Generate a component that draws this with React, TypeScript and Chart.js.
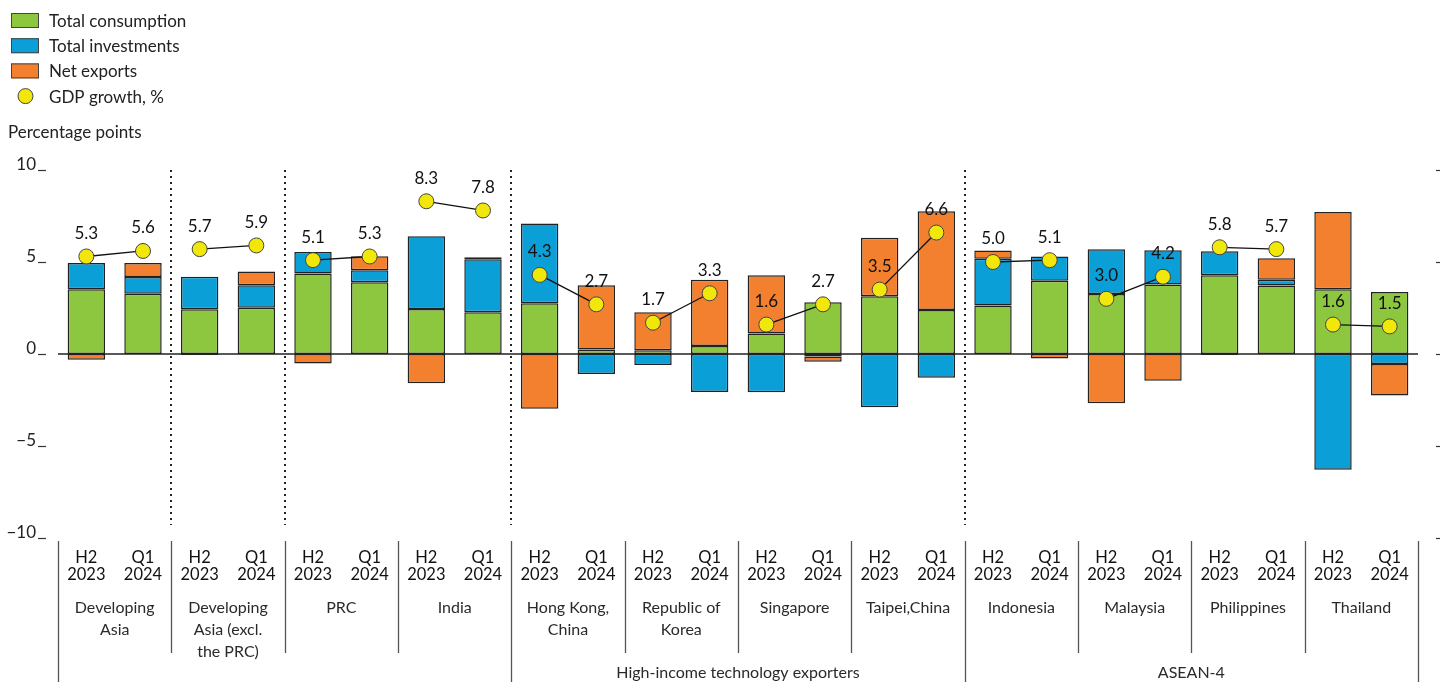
import React, { useEffect, useRef } from "react";
import Chart from "chart.js/auto";

const categories = [
  "H2 2023", "Q1 2024", "H2 2023", "Q1 2024", "H2 2023", "Q1 2024",
  "H2 2023", "Q1 2024", "H2 2023", "Q1 2024", "H2 2023", "Q1 2024",
  "H2 2023", "Q1 2024", "H2 2023", "Q1 2024", "H2 2023", "Q1 2024",
  "H2 2023", "Q1 2024", "H2 2023", "Q1 2024", "H2 2023", "Q1 2024",
];

const countries = [
  ["Developing", "Asia"],
  ["Developing", "Asia (excl.", "the PRC)"],
  ["PRC"],
  ["India"],
  ["Hong Kong,", "China"],
  ["Republic of", "Korea"],
  ["Singapore"],
  ["Taipei,China"],
  ["Indonesia"],
  ["Malaysia"],
  ["Philippines"],
  ["Thailand"],
];

const superGroups = [
  { label: "High-income technology exporters", from: 4, to: 7 },
  { label: "ASEAN-4", from: 8, to: 11 },
];

const dottedAfterCountry = [0, 1, 3, 7];
const longLineBoundaries = [0, 4, 8, 12];

const consumption = [3.52, 3.28, 2.43, 2.52, 4.38, 3.9, 2.45, 2.27, 2.76, 0.25, 0.2, 0.43, 1.12, 2.81, 3.14, 2.39, 2.64, 3.98, 3.26, 3.78, 4.28, 3.72, 3.52, 3.37];
const investments = [1.43, 0.9, 1.77, 1.21, 1.16, 0.65, 3.95, 2.88, 4.33, -1.09, -0.6, -2.07, -2.08, -0.14, -2.9, -1.29, 2.54, 1.32, 2.43, 1.86, 1.3, 0.31, -6.29, -0.54];
const netExports = [-0.31, 0.77, -0.05, 0.76, -0.51, 0.76, -1.59, 0.11, -2.97, 3.48, 2.07, 3.61, 3.16, -0.28, 3.18, 5.37, 0.45, -0.25, -2.68, -1.45, -0.05, 1.18, 4.2, -1.71];
const gdpGrowth = [5.3, 5.6, 5.7, 5.9, 5.1, 5.3, 8.3, 7.8, 4.3, 2.7, 1.7, 3.3, 1.6, 2.7, 3.5, 6.6, 5.0, 5.1, 3.0, 4.2, 5.8, 5.7, 1.6, 1.5];

const yTicks = [10, 5, 0, -5, -10];
const yTickLabels = ["10", "5", "0", "\u22125", "\u221210"];

const seriesNames = ["Total consumption", "Total investments", "Net exports", "GDP growth, %"];
const GREEN = "#8DC63F";
const BLUE = "#0A9FD6";
const ORANGE = "#F2802E";
const YELLOW = "#F2E70A";
const FONT = 'Lato, "Noto Sans", sans-serif';
const TEXT = "#222";

function boundaryX(chart: any, k: number) {
  const x = chart.scales.x;
  const n = categories.length;
  if (k <= 0) return chart.chartArea.left;
  if (k >= n) return chart.chartArea.right;
  return (x.getPixelForValue(k - 1) + x.getPixelForValue(k)) / 2;
}

const overlayPlugin = {
  id: "overlay",
  beforeDatasetsDraw(chart: any) {
    const { ctx } = chart;
    const y = chart.scales.y;
    ctx.save();
    ctx.strokeStyle = "#222";
    ctx.lineWidth = 2;
    ctx.setLineDash([2, 4]);
    dottedAfterCountry.forEach((g) => {
      const bx = Math.round(boundaryX(chart, (g + 1) * 2));
      ctx.beginPath();
      ctx.moveTo(bx, y.getPixelForValue(10));
      ctx.lineTo(bx, y.getPixelForValue(-9.3));
      ctx.stroke();
    });
    ctx.restore();
  },
  afterDatasetsDraw(chart: any) {
    const { ctx, chartArea } = chart;
    const y = chart.scales.y;
    ctx.save();
    ctx.strokeStyle = "#222";
    ctx.lineWidth = 1.5;
    const zy = y.getPixelForValue(0);
    ctx.beginPath();
    ctx.moveTo(chartArea.left, zy);
    ctx.lineTo(chartArea.right, zy);
    ctx.stroke();
    ctx.restore();

    const meta = chart.getDatasetMeta(3);
    ctx.save();
    ctx.font = `17px ${FONT}`;
    ctx.fillStyle = "#111";
    ctx.textAlign = "center";
    ctx.textBaseline = "middle";
    meta.data.forEach((pt: any, i: number) => {
      ctx.fillText(gdpGrowth[i].toFixed(1), pt.x, pt.y - 23);
    });
    ctx.restore();
  },
  afterDraw(chart: any) {
    const { ctx, chartArea, height } = chart;
    const x = chart.scales.x;
    const y = chart.scales.y;
    ctx.save();

    const colors = [GREEN, BLUE, ORANGE];
    ctx.font = `17px ${FONT}`;
    ctx.textBaseline = "alphabetic";
    ctx.textAlign = "left";
    for (let i = 0; i < 4; i++) {
      const cy = 20.5 + i * 25.2;
      if (i < 3) {
        ctx.fillStyle = colors[i];
        ctx.fillRect(11, cy - 7.5, 28, 15);
        ctx.strokeStyle = "#444";
        ctx.lineWidth = 1;
        ctx.strokeRect(11.5, cy - 7, 27, 14);
      } else {
        ctx.beginPath();
        ctx.arc(25.5, cy, 7.5, 0, Math.PI * 2);
        ctx.fillStyle = YELLOW;
        ctx.fill();
        ctx.strokeStyle = "#444";
        ctx.lineWidth = 1;
        ctx.stroke();
      }
      ctx.fillStyle = TEXT;
      ctx.fillText(seriesNames[i], 49, cy + 6.5);
    }

    ctx.fillText("Percentage points", 8, 138);

    ctx.textAlign = "right";
    yTicks.forEach((v, i) => {
      const py = y.getPixelForValue(v);
      ctx.fillStyle = TEXT;
      ctx.fillText(yTickLabels[i], 36, py);
      ctx.strokeStyle = "#333";
      ctx.lineWidth = 1.2;
      ctx.beginPath();
      ctx.moveTo(38, py + 0.5);
      ctx.lineTo(46, py + 0.5);
      ctx.stroke();
      ctx.beginPath();
      ctx.moveTo(1436, py + 0.5);
      ctx.lineTo(1440, py + 0.5);
      ctx.stroke();
    });

    const bottom = chartArea.bottom;
    ctx.strokeStyle = "#555";
    ctx.lineWidth = 1.3;
    for (let g = 0; g <= countries.length; g++) {
      const bx = Math.round(boundaryX(chart, g * 2)) + 0.5;
      const long = longLineBoundaries.includes(g);
      ctx.beginPath();
      ctx.moveTo(bx, bottom + 3);
      ctx.lineTo(bx, long ? height : bottom + 115);
      ctx.stroke();
    }

    ctx.textAlign = "center";
    ctx.textBaseline = "middle";
    ctx.fillStyle = "#111";
    ctx.font = `16.5px ${FONT}`;
    categories.forEach((c, i) => {
      const px = x.getPixelForValue(i);
      const parts = c.split(" ");
      ctx.fillText(parts[0], px, bottom + 20);
      ctx.fillText(parts[1], px, bottom + 37);
    });

    ctx.font = `16px ${FONT}`;
    ctx.fillStyle = "#2a2a2a";
    countries.forEach((lines, g) => {
      const cx = (boundaryX(chart, g * 2) + boundaryX(chart, g * 2 + 2)) / 2;
      lines.forEach((t, j) => {
        ctx.fillText(t, cx, bottom + 70 + j * 22);
      });
    });

    superGroups.forEach((sg) => {
      const cx = (boundaryX(chart, sg.from * 2) + boundaryX(chart, sg.to * 2 + 2)) / 2;
      ctx.fillText(sg.label, cx, bottom + 135);
    });

    ctx.restore();
  },
};

export default function App() {
  const canvasRef = useRef<HTMLCanvasElement | null>(null);

  useEffect(() => {
    const canvas = canvasRef.current;
    if (!canvas) return;
    const barCommon = {
      type: "bar" as const,
      borderColor: "#222",
      borderWidth: 1.5,
      borderSkipped: false,
      barPercentage: 0.66,
      categoryPercentage: 1,
      stack: "contrib",
      order: 1,
    };
    const chart = new Chart(canvas, {
      data: {
        labels: categories,
        datasets: [
          { ...barCommon, label: seriesNames[0], data: consumption, backgroundColor: GREEN },
          { ...barCommon, label: seriesNames[1], data: investments, backgroundColor: BLUE },
          { ...barCommon, label: seriesNames[2], data: netExports, backgroundColor: ORANGE },
          {
            type: "line" as const,
            label: seriesNames[3],
            data: gdpGrowth,
            stack: "gdp",
            order: 0,
            borderColor: "#111",
            borderWidth: 1.3,
            pointRadius: 7.5,
            pointBackgroundColor: YELLOW,
            pointBorderColor: "#444",
            pointBorderWidth: 1,
            fill: false,
            tension: 0,
            segment: {
              borderColor: (c: any) => (c.p0DataIndex % 2 === 1 ? "rgba(0,0,0,0)" : "#111"),
            },
          } as any,
        ],
      },
      options: {
        animation: false,
        responsive: true,
        maintainAspectRatio: false,
        events: [],
        layout: { padding: { left: 58, right: 22, top: 170, bottom: 144 } },
        plugins: {
          legend: { display: false },
          tooltip: { enabled: false },
        },
        scales: {
          x: { display: false, stacked: true, offset: true },
          y: { display: false, stacked: true, min: -10, max: 10 },
        },
      },
      plugins: [overlayPlugin],
    } as any);
    return () => chart.destroy();
  }, []);

  return (
    <div style={{ position: "fixed", left: 0, top: 0, width: 1440, height: 682, background: "#fff" }}>
      <canvas ref={canvasRef} />
    </div>
  );
}
